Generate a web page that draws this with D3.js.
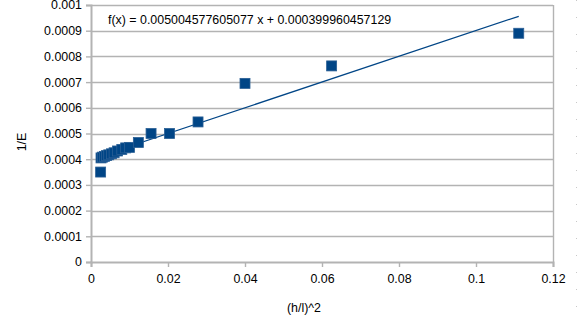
<!DOCTYPE html>
<html>
<head>
<meta charset="utf-8">
<script src="https://cdn.jsdelivr.net/npm/d3@7/dist/d3.min.js"></script>
<style>
  html, body { margin: 0; padding: 0; background: #fff; }
  svg { display: block; font-family: "Liberation Sans", Arial, sans-serif; }
</style>
</head>
<body>
<svg id="chart" width="577" height="323"></svg>
<script>
// Measurements: (h/l)^2 against 1/E
const xValues = [0.0025, 0.0026, 0.0030, 0.0035, 0.0040, 0.0046, 0.0053, 0.0060, 0.0069, 0.0080, 0.0090, 0.0100,
                 0.0123, 0.0156, 0.0204, 0.0278, 0.0400, 0.0625, 0.1111];
const yValues = [0.000350, 0.000405, 0.000408, 0.000411, 0.000414, 0.000417, 0.000421, 0.000425, 0.000432, 0.000438, 0.000444, 0.000446,
                 0.000465, 0.000500, 0.000500, 0.000545, 0.000695, 0.000763, 0.000890];

// Linear trend line
const slope = 0.005004577605077;
const intercept = 0.000399960457129;
const trendLabel = "f(x) = 0.005004577605077 x + 0.000399960457129";

const xTicks = [0, 0.02, 0.04, 0.06, 0.08, 0.1, 0.12];
const xTickLabels = ["0", "0.02", "0.04", "0.06", "0.08", "0.1", "0.12"];
const yTicks = [0, 0.0001, 0.0002, 0.0003, 0.0004, 0.0005, 0.0006, 0.0007, 0.0008, 0.0009, 0.001];
const yTickLabels = ["0", "0.0001", "0.0002", "0.0003", "0.0004", "0.0005", "0.0006", "0.0007", "0.0008", "0.0009", "0.001"];

const xTitle = "(h/l)^2";
const yTitle = "1/E";

const svg = d3.select("#chart");
const plotLeft = 91, plotRight = 553, plotTop = 5, plotBottom = 262;
const gridColor = "#b3b3b3";
const markColor = "#004586";
const fontSize = 12.4;

const x = d3.scaleLinear().domain([0, 0.12]).range([plotLeft, plotRight]);
const y = d3.scaleLinear().domain([0, 0.001]).range([plotBottom, plotTop]);

// faint dotted cell border at the right edge
svg.append("line")
  .attr("x1", 576.5).attr("x2", 576.5).attr("y1", 0).attr("y2", 323)
  .attr("stroke", "#c8c8c8").attr("stroke-width", 1).attr("stroke-dasharray", "1,16");

// horizontal grid lines
svg.append("g").selectAll("line").data(yTicks.slice(1)).join("line")
  .attr("x1", plotLeft).attr("x2", plotRight)
  .attr("y1", d => Math.round(y(d)) + 0.5).attr("y2", d => Math.round(y(d)) + 0.5)
  .attr("stroke", gridColor).attr("stroke-width", 1.4);

// right frame edge
svg.append("line")
  .attr("x1", plotRight + 0.5).attr("x2", plotRight + 0.5).attr("y1", plotTop).attr("y2", plotBottom)
  .attr("stroke", gridColor).attr("stroke-width", 1.4);

// y axis
const yAxis = d3.axisLeft(y).tickValues(yTicks).tickSize(5).tickPadding(4)
  .tickFormat((d, i) => yTickLabels[i]);
const gy = svg.append("g").attr("transform", `translate(${plotLeft},0)`).call(yAxis);

// x axis
const xAxis = d3.axisBottom(x).tickValues(xTicks).tickSize(5).tickPadding(7)
  .tickFormat((d, i) => xTickLabels[i]);
const gx = svg.append("g").attr("transform", `translate(0,${plotBottom})`).call(xAxis);

[gx, gy].forEach(g => {
  g.select(".domain").attr("stroke", gridColor).attr("stroke-width", 2);
  g.selectAll(".tick line").attr("stroke", gridColor).attr("stroke-width", 1.4);
  g.selectAll(".tick text").attr("fill", "#000").attr("font-size", fontSize)
    .attr("font-family", "Liberation Sans, Arial, sans-serif");
});

// trend line across the data range
const xMin = d3.min(xValues), xMax = d3.max(xValues);
svg.append("line")
  .attr("x1", x(xMin)).attr("y1", y(slope * xMin + intercept))
  .attr("x2", x(xMax)).attr("y2", y(slope * xMax + intercept))
  .attr("stroke", markColor).attr("stroke-width", 1.2);

// square markers
const s = 10;
svg.append("g").selectAll("rect").data(xValues.map((v, i) => [v, yValues[i]])).join("rect")
  .attr("x", d => x(d[0]) - s / 2)
  .attr("y", d => y(d[1]) - s / 2)
  .attr("width", s).attr("height", s)
  .attr("fill", markColor)
  .attr("stroke", "#2a5f95").attr("stroke-width", 0.8);

// equation label
svg.append("text")
  .attr("x", 108).attr("y", 24)
  .attr("font-size", fontSize).attr("fill", "#000")
  .text(trendLabel);

// axis titles
svg.append("text")
  .attr("x", 304).attr("y", 312).attr("text-anchor", "middle")
  .attr("font-size", fontSize).attr("fill", "#000")
  .text(xTitle);

svg.append("text")
  .attr("transform", "translate(26,142) rotate(-90)")
  .attr("text-anchor", "middle")
  .attr("font-size", fontSize).attr("fill", "#000")
  .text(yTitle);
</script>
</body>
</html>
